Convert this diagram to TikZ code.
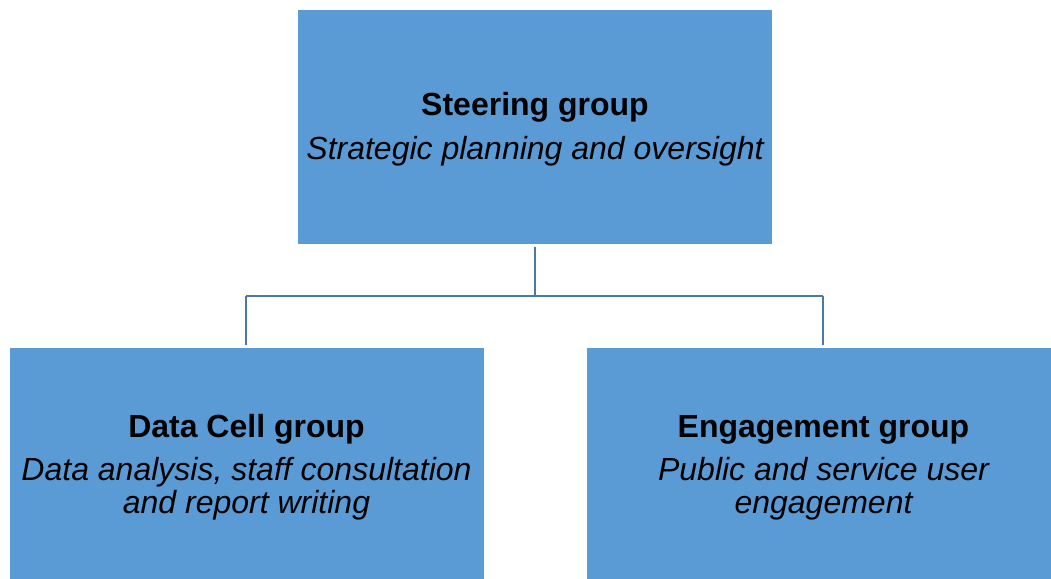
\documentclass[tikz,border=0pt]{standalone}
\usepackage{fontspec}
\setmainfont{Liberation Sans}
\definecolor{boxfill}{HTML}{5B9BD5}
\definecolor{linecol}{HTML}{4A78AA}
\begin{document}
\begin{tikzpicture}[x=1pt,y=-1pt,
  box/.style={rectangle, fill=boxfill, draw=none, inner sep=0pt, minimum width=474pt, minimum height=234pt},
  title/.style={anchor=base, font=\fontsize{32}{33.5}\selectfont\bfseries, inner sep=0pt},
  sub/.style={anchor=base, font=\fontsize{32}{33.5}\selectfont\itshape, inner sep=0pt},
  conn/.style={draw=linecol, line width=2.5pt}]
\useasboundingbox (0,0) rectangle (1051,578);
\clip (0,0) rectangle (1051,578);
% boxes
\node[box] (top) at (535,127) {};
\node[box] (left) at (246.5,465) {};
\node[box] (right) at (823.5,465) {};
% texts
\node[title] (topt) at (535,115) {Steering group};
\node[sub] (tops) at (535,159) {Strategic planning and oversight};
\node[title] (leftt) at (246.5,437) {Data Cell group};
\node[sub] (lefts1) at (246.5,480) {Data analysis, staff consultation};
\node[sub] (lefts2) at (246.5,513) {and report writing};
\node[title] (rightt) at (823.5,437) {Engagement group};
\node[sub] (rights1) at (823.5,480) {Public and service user};
\node[sub] (rights2) at (823.5,513) {engagement};
% connectors
\coordinate (j) at (535,296);
\coordinate (ls) at (246,296);
\coordinate (rs) at (823,296);
\draw[conn] ([yshift=-3pt]top.south) -- (j);
\draw[conn] (ls) -- (rs);
\draw[conn] (ls) -- ([yshift=3pt]left.north -| ls);
\draw[conn] (rs) -- ([yshift=3pt]right.north -| rs);
\end{tikzpicture}
\end{document}
